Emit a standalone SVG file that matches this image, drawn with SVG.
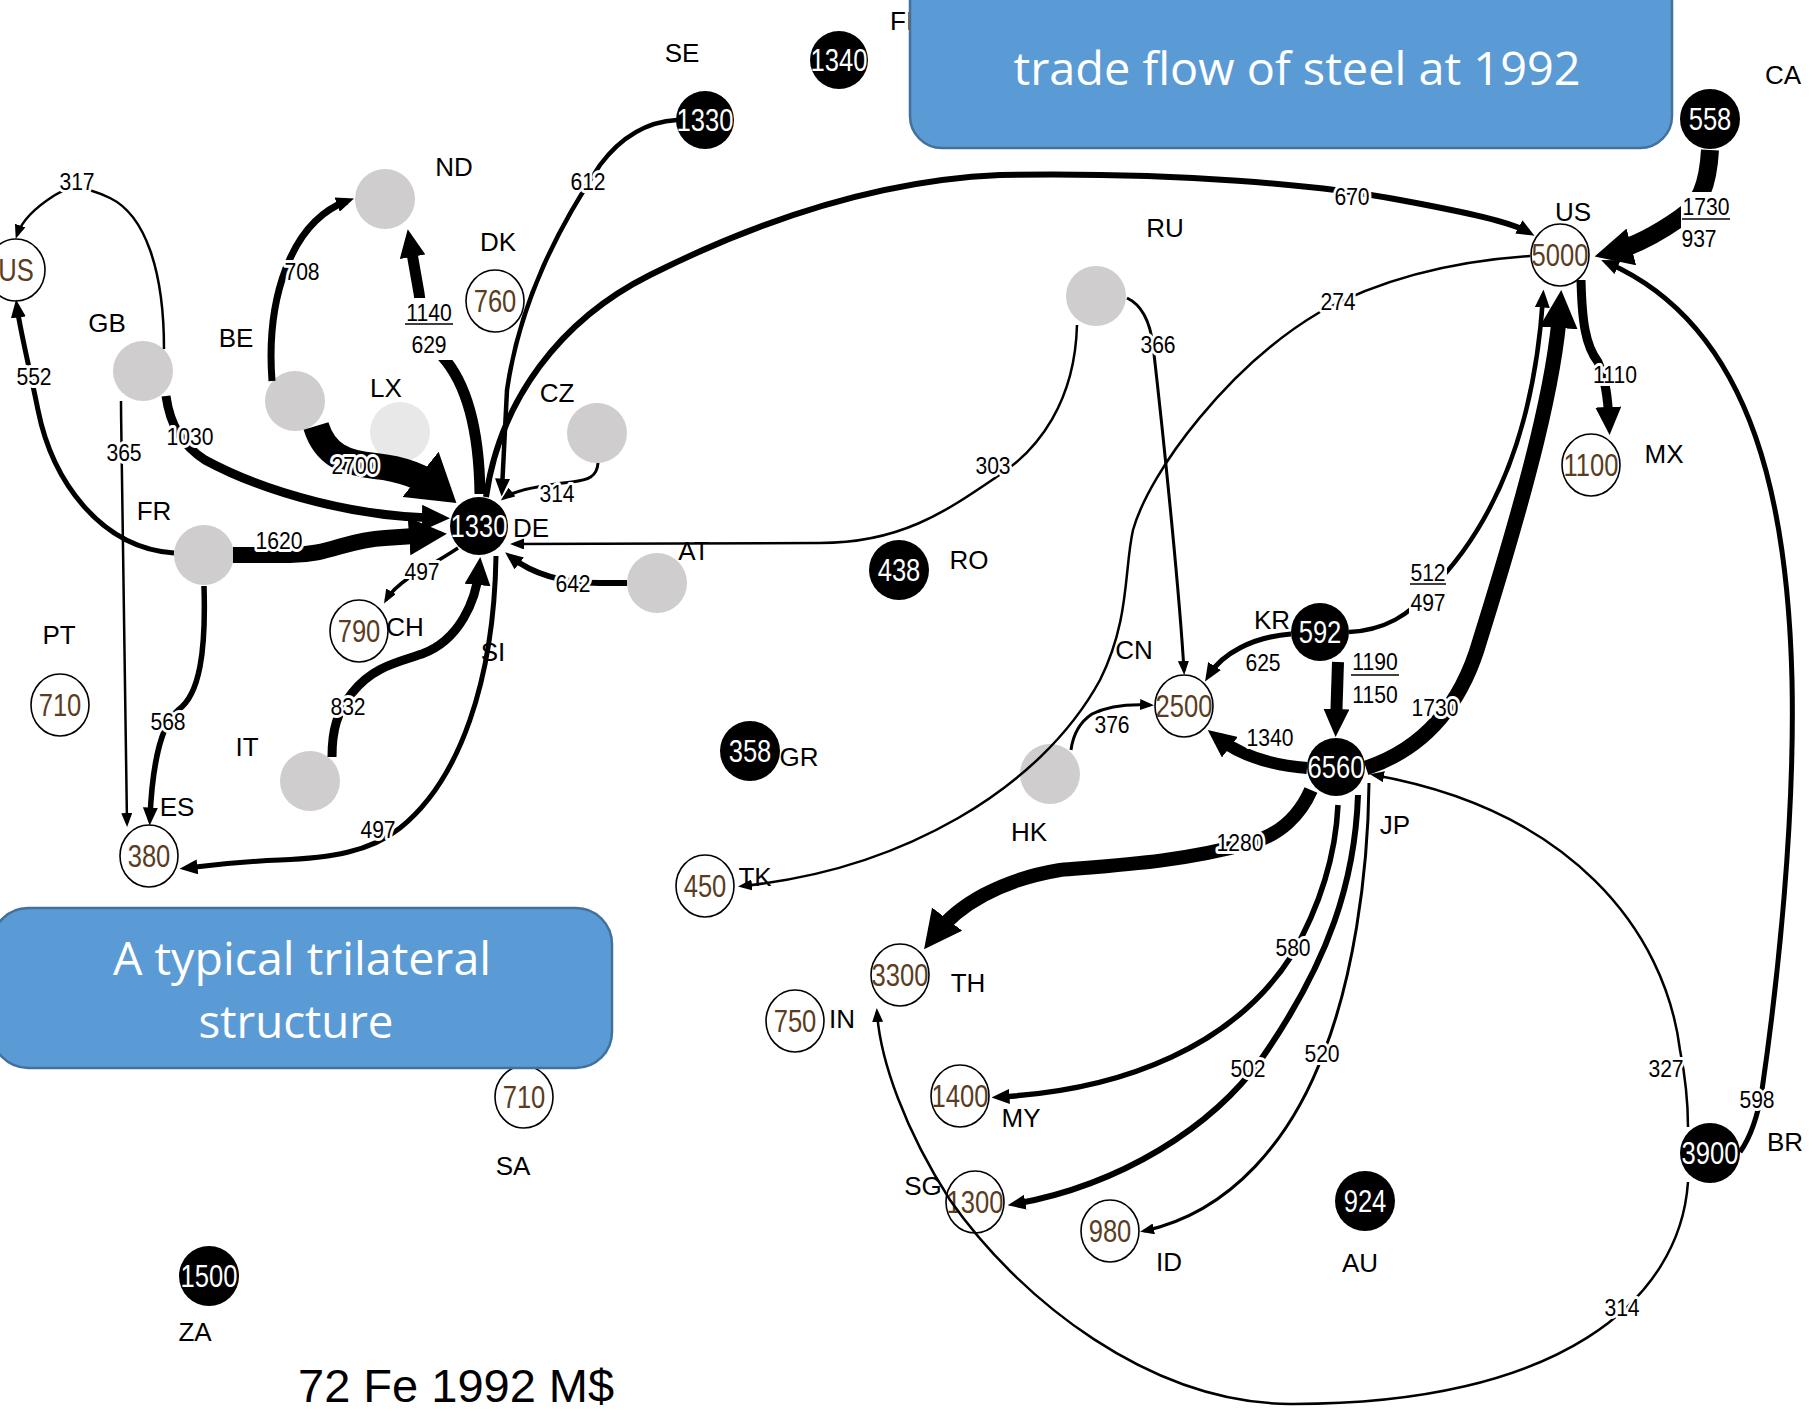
<svg xmlns="http://www.w3.org/2000/svg" width="1814" height="1411" viewBox="0 0 1814 1411">
<style>
.g{fill:#cfcdcd}
.lx{fill:#e8e8e8}
.b{fill:#000}
.w{fill:#fff;stroke:#000;stroke-width:1.6}
.nv{font-family:"Liberation Sans",Arial,sans-serif;font-size:32px;text-anchor:middle;dominant-baseline:central}
.br{fill:#5a3c1e}
.wt{fill:#fff}
.cl{font-family:"Liberation Sans",Arial,sans-serif;font-size:26px;text-anchor:middle;dominant-baseline:central;fill:#000}
.e{fill:none;stroke:#000;stroke-linecap:butt;stroke-linejoin:round}
.el{font-family:"Liberation Sans",Arial,sans-serif;font-size:24px;text-anchor:middle;dominant-baseline:central;fill:#000;stroke:#fff;stroke-width:6px;paint-order:stroke;stroke-linejoin:round}
.ep{font-family:"Liberation Sans",Arial,sans-serif;font-size:24px;text-anchor:middle;dominant-baseline:central;fill:#000}
.ul{stroke:#000;stroke-width:1.6}
.box{fill:#5b9bd5;stroke:#41719c;stroke-width:2.5}
.bt{font-family:"Open Sans","Noto Sans",sans-serif;font-size:46px;fill:#fff;text-anchor:middle}
</style>
<defs>
<marker id="aS" viewBox="0 0 14 11" refX="10" refY="5.5" markerWidth="14" markerHeight="11" markerUnits="userSpaceOnUse" orient="auto"><path d="M0,0 L14,5.5 L0,11 z"/></marker>
<marker id="aM" viewBox="0 0 18 15" refX="10.5" refY="7.5" markerWidth="18" markerHeight="15" markerUnits="userSpaceOnUse" orient="auto"><path d="M0,0 L18,7.5 L0,15 z"/></marker>
<marker id="aL" viewBox="0 0 28 26" refX="15" refY="13" markerWidth="28" markerHeight="26" markerUnits="userSpaceOnUse" orient="auto"><path d="M0,0 L28,13 L0,26 z"/></marker>
<marker id="aXL" viewBox="0 0 38 38" refX="20" refY="19" markerWidth="38" markerHeight="38" markerUnits="userSpaceOnUse" orient="auto"><path d="M0,0 L38,19 L0,38 z"/></marker>
<marker id="aXXL" viewBox="0 0 46 58" refX="25" refY="29" markerWidth="46" markerHeight="58" markerUnits="userSpaceOnUse" orient="auto"><path d="M0,0 L46,29 L0,58 z"/></marker>
</defs>
<rect width="1814" height="1411" fill="#fff"/>

<g id="nodes">
<g id="node-US-left"><ellipse class="w" cx="16" cy="270" rx="29" ry="31"/><text class="nv br" transform="translate(16,270) scale(.8,1)">US</text></g>
<g id="node-GB"><circle class="g" cx="143" cy="371" r="30"/><text class="cl" x="107" y="323">GB</text></g>
<g id="node-BE"><circle class="g" cx="295" cy="401" r="30"/><text class="cl" x="236" y="338">BE</text></g>
<g id="node-ND"><circle class="g" cx="385" cy="199" r="30"/><text class="cl" x="454" y="167">ND</text></g>
<g id="node-LX"><circle class="lx" cx="400" cy="432" r="30"/><text class="cl" x="386" y="388">LX</text></g>
<g id="node-DK"><ellipse class="w" cx="495" cy="301" rx="29" ry="31"/><text class="nv br" transform="translate(495,301) scale(.8,1)">760</text><text class="cl" x="498" y="242">DK</text></g>
<g id="node-CZ"><circle class="g" cx="597" cy="433" r="30"/><text class="cl" x="557" y="393">CZ</text></g>
<g id="node-DE"><circle class="b" cx="479" cy="526" r="29"/><text class="nv wt" transform="translate(479,526) scale(.8,1)">1330</text><text class="cl" x="531" y="528">DE</text></g>
<g id="node-FR"><circle class="g" cx="204" cy="555" r="30"/><text class="cl" x="154" y="511">FR</text></g>
<g id="node-AT"><circle class="g" cx="657" cy="583" r="30"/><text class="cl" x="694" y="551">AT</text></g>
<g id="node-CH"><ellipse class="w" cx="359" cy="631" rx="29" ry="31"/><text class="nv br" transform="translate(359,631) scale(.8,1)">790</text><text class="cl" x="405" y="627">CH</text></g>
<g id="node-SI"><text class="cl" x="493" y="652">SI</text></g>
<g id="node-IT"><circle class="g" cx="310" cy="781" r="30"/><text class="cl" x="247" y="747">IT</text></g>
<g id="node-ES"><ellipse class="w" cx="149" cy="856" rx="29" ry="31"/><text class="nv br" transform="translate(149,856) scale(.8,1)">380</text><text class="cl" x="177" y="807">ES</text></g>
<g id="node-PT"><ellipse class="w" cx="60" cy="705" rx="29" ry="31"/><text class="nv br" transform="translate(60,705) scale(.8,1)">710</text><text class="cl" x="59" y="635">PT</text></g>
<g id="node-SE"><circle class="b" cx="705" cy="120" r="29"/><text class="nv wt" transform="translate(705,120) scale(.8,1)">1330</text><text class="cl" x="682" y="53">SE</text></g>
<g id="node-FI"><circle class="b" cx="839" cy="60" r="29"/><text class="nv wt" transform="translate(839,60) scale(.8,1)">1340</text><text class="cl" x="890" y="21" style="text-anchor:start">FI</text></g>
<g id="node-CA"><circle class="b" cx="1710" cy="119" r="30"/><text class="nv wt" transform="translate(1710,119) scale(.8,1)">558</text><text class="cl" x="1783" y="75">CA</text></g>
<g id="node-US"><ellipse class="w" cx="1560" cy="255" rx="29" ry="31"/><text class="nv br" transform="translate(1560,255) scale(.8,1)">5000</text><text class="cl" x="1573" y="212">US</text></g>
<g id="node-RU"><circle class="g" cx="1096" cy="296" r="30"/><text class="cl" x="1165" y="228">RU</text></g>
<g id="node-MX"><ellipse class="w" cx="1591" cy="465" rx="29" ry="31"/><text class="nv br" transform="translate(1591,465) scale(.8,1)">1100</text><text class="cl" x="1664" y="454">MX</text></g>
<g id="node-RO"><circle class="b" cx="899" cy="570" r="30"/><text class="nv wt" transform="translate(899,570) scale(.8,1)">438</text><text class="cl" x="969" y="560">RO</text></g>
<g id="node-KR"><circle class="b" cx="1320" cy="632" r="29"/><text class="nv wt" transform="translate(1320,632) scale(.8,1)">592</text><text class="cl" x="1272" y="620">KR</text></g>
<g id="node-CN"><ellipse class="w" cx="1184" cy="706" rx="29" ry="31"/><text class="nv br" transform="translate(1184,706) scale(.8,1)">2500</text><text class="cl" x="1134" y="650">CN</text></g>
<g id="node-JP"><circle class="b" cx="1336" cy="767" r="29"/><text class="nv wt" transform="translate(1336,767) scale(.8,1)">6560</text><text class="cl" x="1395" y="825">JP</text></g>
<g id="node-HK"><circle class="g" cx="1050" cy="774" r="30"/><text class="cl" x="1029" y="832">HK</text></g>
<g id="node-GR"><circle class="b" cx="750" cy="751" r="30"/><text class="nv wt" transform="translate(750,751) scale(.8,1)">358</text><text class="cl" x="799" y="757">GR</text></g>
<g id="node-TK"><ellipse class="w" cx="705" cy="886" rx="29" ry="31"/><text class="nv br" transform="translate(705,886) scale(.8,1)">450</text><text class="cl" x="755" y="877">TK</text></g>
<g id="node-TH"><ellipse class="w" cx="900" cy="975" rx="29" ry="31"/><text class="nv br" transform="translate(900,975) scale(.8,1)">3300</text><text class="cl" x="968" y="983">TH</text></g>
<g id="node-IN"><ellipse class="w" cx="795" cy="1021" rx="29" ry="31"/><text class="nv br" transform="translate(795,1021) scale(.8,1)">750</text><text class="cl" x="842" y="1019">IN</text></g>
<g id="node-MY"><ellipse class="w" cx="960" cy="1096" rx="29" ry="31"/><text class="nv br" transform="translate(960,1096) scale(.8,1)">1400</text><text class="cl" x="1021" y="1118">MY</text></g>
<g id="node-SG"><ellipse class="w" cx="975" cy="1202" rx="29" ry="31"/><text class="nv br" transform="translate(975,1202) scale(.8,1)">1300</text><text class="cl" x="923" y="1186">SG</text></g>
<g id="node-ID"><ellipse class="w" cx="1110" cy="1231" rx="29" ry="31"/><text class="nv br" transform="translate(1110,1231) scale(.8,1)">980</text><text class="cl" x="1169" y="1262">ID</text></g>
<g id="node-AU"><circle class="b" cx="1365" cy="1201" r="30"/><text class="nv wt" transform="translate(1365,1201) scale(.8,1)">924</text><text class="cl" x="1360" y="1263">AU</text></g>
<g id="node-BR"><circle class="b" cx="1710" cy="1153" r="30"/><text class="nv wt" transform="translate(1710,1153) scale(.8,1)">3900</text><text class="cl" x="1785" y="1142">BR</text></g>
<g id="node-SA"><ellipse class="w" cx="524" cy="1097" rx="29" ry="31"/><text class="nv br" transform="translate(524,1097) scale(.8,1)">710</text><text class="cl" x="513" y="1166">SA</text></g>
<g id="node-ZA"><circle class="b" cx="209" cy="1276" r="30"/><text class="nv wt" transform="translate(209,1276) scale(.8,1)">1500</text><text class="cl" x="195" y="1332">ZA</text></g>
</g>

<g id="connectors">
<path class="e" stroke-width="2.5" marker-end="url(#aS)" d="M164,349 C164,270 145,215 110,198 C90,188 70,185 55,195 C36,207 22,220 17,235"/>
<path class="e" stroke-width="5" marker-end="url(#aM)" d="M174,553 C100,548 52,480 38,410 C30,370 20,330 17,307"/>
<path class="e" stroke-width="2.5" marker-end="url(#aS)" d="M121,401 C122,550 124,700 127,823"/>
<path class="e" stroke-width="5.5" marker-end="url(#aM)" d="M204,586 C206,650 200,695 178,710 C160,725 152,770 150,818"/>
<path class="e" stroke-width="9" marker-end="url(#aL)" d="M166,396 C170,425 182,445 205,460 C270,495 360,517 437,518"/>
<path class="e" stroke-width="7" marker-end="url(#aM)" d="M272,381 C266,300 290,222 347,201"/>
<path class="e" stroke-width="26" marker-end="url(#aXXL)" d="M316,426 C325,455 345,463 375,466 C405,469 425,478 440,490"/>
<path class="e" stroke-width="11" marker-end="url(#aL)" d="M480,494 C479,420 462,378 442,356 C427,338 421,312 419,293 L410,242"/>
<path class="e" stroke-width="4.5" marker-end="url(#aM)" d="M677,120 C640,122 615,145 600,165 C560,225 520,300 507,390 L502,489"/>
<path class="e" stroke-width="6" marker-end="url(#aM)" d="M486,497 C500,400 560,320 650,275 C760,220 880,180 1000,175 C1180,172 1320,185 1400,200 C1470,213 1510,222 1528,232"/>
<path class="e" stroke-width="3" marker-end="url(#aS)" d="M598,463 C597,477 588,480 572,482 C535,486 512,492 504,498"/>
<path class="e" stroke-width="16" marker-end="url(#aXL)" d="M233,555 L290,555 C330,555 345,540 385,538 L429,535"/>
<path class="e" stroke-width="6" marker-end="url(#aM)" d="M627,583 L600,583 C560,583 530,572 511,557"/>
<path class="e" stroke-width="2.5" marker-end="url(#aS)" d="M1077,325 C1075,400 1040,450 995,478 C945,512 900,543 820,543 L514,544"/>
<path class="e" stroke-width="3.5" marker-end="url(#aS)" d="M458,548 C440,560 425,568 410,577 C397,586 390,593 386,600"/>
<path class="e" stroke-width="9" marker-end="url(#aL)" d="M332,757 C332,730 337,712 352,693 C372,667 398,662 422,654 C460,640 476,600 479,570"/>
<path class="e" stroke-width="5" marker-end="url(#aM)" d="M496,556 C494,680 460,780 400,828 C370,852 330,858 280,860 C230,862 205,866 187,868"/>
<path class="e" stroke-width="18" marker-end="url(#aXL)" d="M1710,150 C1708,185 1700,205 1680,218 C1660,232 1635,246 1612,252"/>
<path class="e" stroke-width="9" marker-end="url(#aL)" d="M1581,280 C1582,320 1585,345 1598,362 C1606,380 1608,400 1609,422"/>
<path class="e" stroke-width="3" marker-end="url(#aS)" d="M1127,298 C1142,305 1150,322 1153,345 C1165,450 1180,600 1184,671"/>
<path class="e" stroke-width="2.5" marker-end="url(#aS)" d="M1530,256 C1440,262 1370,285 1320,312 C1230,365 1150,470 1133,530 C1124,570 1130,620 1100,680 C1040,790 900,870 742,886"/>
<path class="e" stroke-width="4.5" marker-end="url(#aM)" d="M1349,632 C1385,630 1410,615 1430,590 C1500,520 1535,420 1543,297"/>
<path class="e" stroke-width="12" marker-end="url(#aL)" d="M1338,662 L1336,724"/>
<path class="e" stroke-width="5" marker-end="url(#aM)" d="M1291,634 C1252,637 1222,654 1209,675"/>
<path class="e" stroke-width="12" marker-end="url(#aL)" d="M1307,768 C1270,765 1240,755 1218,738"/>
<path class="e" stroke-width="15" marker-end="url(#aXL)" d="M1366,768 C1420,750 1460,710 1480,640 C1530,480 1555,380 1560,308"/>
<path class="e" stroke-width="3" marker-end="url(#aS)" d="M1071,750 C1073,735 1080,722 1092,714 C1110,705 1130,704 1150,705"/>
<path class="e" stroke-width="14" marker-end="url(#aXL)" d="M1311,790 C1300,815 1280,835 1250,843 C1180,862 1120,865 1060,870 C1000,880 958,905 935,935"/>
<path class="e" stroke-width="5.5" marker-end="url(#aM)" d="M1338,805 C1335,870 1312,920 1292,955 C1235,1045 1125,1090 999,1097"/>
<path class="e" stroke-width="6" marker-end="url(#aM)" d="M1358,795 C1355,880 1330,960 1262,1058 C1212,1128 1120,1185 1015,1204"/>
<path class="e" stroke-width="3" marker-end="url(#aS)" d="M1369,783 C1368,880 1352,980 1324,1052 C1292,1138 1232,1212 1144,1231"/>
<path class="e" stroke-width="2.5" marker-end="url(#aS)" d="M1688,1127 C1688,1100 1686,1080 1680,1050 C1665,930 1570,810 1374,775"/>
<path class="e" stroke-width="5" marker-end="url(#aM)" d="M1740,1152 C1752,1135 1758,1115 1762,1090 C1778,980 1795,820 1792,680 C1788,520 1760,330 1608,263"/>
<path class="e" stroke-width="2.5" marker-end="url(#aS)" d="M1688,1182 C1680,1300 1560,1405 1290,1404 C1150,1403 1020,1300 950,1200 C905,1130 880,1060 877,1012"/>
</g>

<g id="connector-labels">
<text class="el" transform="translate(77,182) scale(.88,1)">317</text>
<text class="el" transform="translate(34,377) scale(.88,1)">552</text>
<text class="el" transform="translate(124,453) scale(.88,1)">365</text>
<text class="el" transform="translate(190,437) scale(.88,1)">1030</text>
<text class="el" transform="translate(302,272) scale(.88,1)">708</text>
<text class="el" transform="translate(355,466) scale(.88,1)">2700</text>
<text class="el" transform="translate(588,182) scale(.88,1)">612</text>
<text class="el" transform="translate(1352,197) scale(.88,1)">670</text>
<text class="el" transform="translate(557,494) scale(.88,1)">314</text>
<text class="el" transform="translate(279,541) scale(.88,1)">1620</text>
<text class="el" transform="translate(573,584) scale(.88,1)">642</text>
<text class="el" transform="translate(993,466) scale(.88,1)">303</text>
<text class="el" transform="translate(422,572) scale(.88,1)">497</text>
<text class="el" transform="translate(348,707) scale(.88,1)">832</text>
<text class="el" transform="translate(168,722) scale(.88,1)">568</text>
<text class="el" transform="translate(378,830) scale(.88,1)">497</text>
<text class="el" transform="translate(1615,375) scale(.88,1)">1110</text>
<text class="el" transform="translate(1158,345) scale(.88,1)">366</text>
<text class="el" transform="translate(1338,302) scale(.88,1)">274</text>
<text class="el" transform="translate(1263,663) scale(.88,1)">625</text>
<text class="el" transform="translate(1270,738) scale(.88,1)">1340</text>
<text class="el" transform="translate(1435,708) scale(.88,1)">1730</text>
<text class="el" transform="translate(1112,725) scale(.88,1)">376</text>
<text class="el" transform="translate(1240,843) scale(.88,1)">1280</text>
<text class="el" transform="translate(1293,948) scale(.88,1)">580</text>
<text class="el" transform="translate(1248,1069) scale(.88,1)">502</text>
<text class="el" transform="translate(1322,1054) scale(.88,1)">520</text>
<text class="el" transform="translate(1666,1069) scale(.88,1)">327</text>
<text class="el" transform="translate(1757,1100) scale(.88,1)">598</text>
<text class="el" transform="translate(1622,1308) scale(.88,1)">314</text>
<rect x="404" y="298" width="50" height="62" fill="#fff"/>
<text class="ep" transform="translate(429,313) scale(.88,1)">1140</text>
<line class="ul" x1="405" y1="324" x2="453" y2="324"/>
<text class="ep" transform="translate(429,345) scale(.88,1)">629</text>
<rect x="1681" y="192" width="50" height="62" fill="#fff"/>
<text class="ep" transform="translate(1706,207) scale(.88,1)">1730</text>
<line class="ul" x1="1682" y1="219" x2="1730" y2="219"/>
<text class="ep" transform="translate(1699,239) scale(.88,1)">937</text>
<rect x="1409" y="558" width="38" height="60" fill="#fff"/>
<text class="ep" transform="translate(1428,573) scale(.88,1)">512</text>
<line class="ul" x1="1410" y1="584" x2="1446" y2="584"/>
<text class="ep" transform="translate(1428,603) scale(.88,1)">497</text>
<text class="el" transform="translate(1375,662) scale(.88,1)">1190</text>
<line class="ul" x1="1351" y1="675" x2="1399" y2="675"/>
<text class="el" transform="translate(1375,695) scale(.88,1)">1150</text>
</g>

<g id="title-top">
<rect class="box" x="910" y="-30" width="762" height="178" rx="32"/>
<text class="bt" x="1297" y="85" textLength="567" lengthAdjust="spacingAndGlyphs">trade flow of steel at 1992</text>
</g>
<g id="title-bottom">
<rect class="box" x="-8" y="908" width="620" height="160" rx="36"/>
<text class="bt" x="302" y="975" textLength="378" lengthAdjust="spacingAndGlyphs">A typical trilateral</text>
<text class="bt" x="296" y="1038" textLength="195" lengthAdjust="spacingAndGlyphs">structure</text>
</g>
<g id="caption">
<text x="298" y="1402" style="font-family:'Liberation Sans',Arial,sans-serif;font-size:47px;fill:#000">72 Fe 1992 M$</text>
</g>
</svg>
